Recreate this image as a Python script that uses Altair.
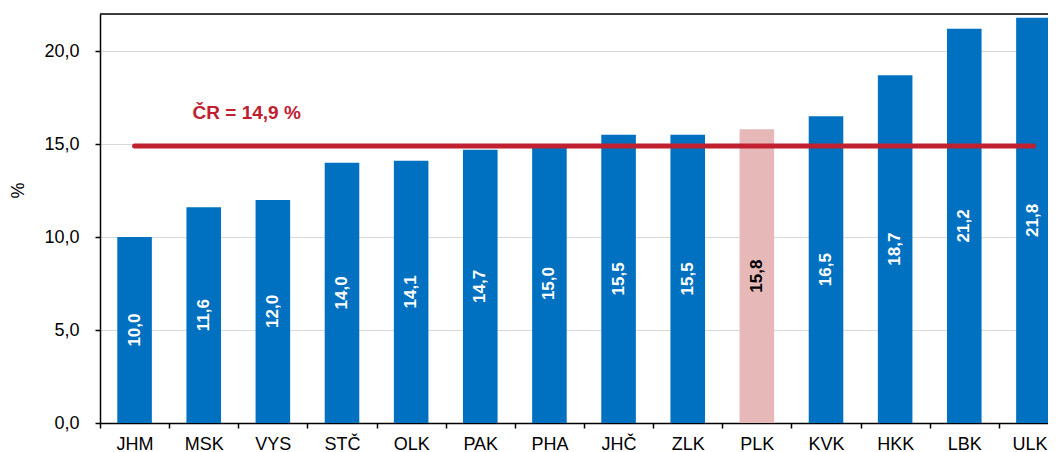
import altair as alt
import pandas as pd

regions = ["JHM", "MSK", "VYS", "STČ", "OLK", "PAK", "PHA", "JHČ", "ZLK", "PLK", "KVK", "HKK", "LBK", "ULK"]
values = [10.0, 11.6, 12.0, 14.0, 14.1, 14.7, 15.0, 15.5, 15.5, 15.8, 16.5, 18.7, 21.2, 21.8]
highlight = "PLK"
cr_value = 14.9
cr_label = "ČR = 14,9 %"
cr_label_y = 16.7
y_ticks = [0, 5, 10, 15, 20]

FONT = "Liberation Sans"
BLUE = "#0070C0"
PINK = "#E6B9B8"
RED = "#C0202F"

df = pd.DataFrame({"region": regions, "value": values})
df["label"] = [f"{v:.1f}".replace(".", ",") for v in values]
df["mid"] = df["value"] / 2

cr_df = pd.DataFrame({"x0": [regions[0]], "x1": [regions[-1]], "y": [cr_value],
                      "text": [cr_label], "ty": [cr_label_y]})

xscale = alt.Scale(domain=regions, paddingInner=0, paddingOuter=0)
yscale = alt.Scale(domain=[0, 22], nice=False)

xaxis = alt.Axis(title=None, tickBand="extent", domainColor="black", domainWidth=1.5,
                 tickColor="black", tickSize=5, tickWidth=1.5, labelFont=FONT, labelFontSize=18,
                 labelColor="black", labelPadding=7, grid=False, labelAngle=0,
                 labelOffset=alt.ExprRef(expr=f"datum.value === '{regions[-1]}' ? -4 : 0"))
yaxis = alt.Axis(title="%", values=y_ticks, domainColor="black", domainWidth=1.5,
                 tickColor="black", tickSize=5, tickWidth=1.5, labelFont=FONT, labelFontSize=18,
                 labelColor="black", labelPadding=16,
                 labelExpr="replace(format(datum.value, '.1f'), '.', ',')",
                 grid=True, gridColor="#D9D9D9", gridWidth=1.2,
                 titleFont=FONT, titleFontSize=18, titleFontWeight="normal", titleColor="black",
                 titleAngle=270, titleAlign="center", titleBaseline="middle",
                 titleX=-82, titleY=176)

base = alt.Chart(df)

bars = base.mark_bar(width=alt.RelativeBandSize(0.5)).encode(
    x=alt.X("region:N", scale=xscale, axis=xaxis),
    y=alt.Y("value:Q", scale=yscale, axis=yaxis),
    color=alt.condition(alt.datum.region == highlight, alt.value(PINK), alt.value(BLUE)),
)

labels = base.mark_text(angle=270, font=FONT, fontSize=17, fontWeight="bold",
                        align="center", baseline="middle").encode(
    x=alt.X("region:N", scale=xscale, axis=xaxis),
    y=alt.Y("mid:Q", scale=yscale, axis=yaxis),
    text="label:N",
    color=alt.condition(alt.datum.region == highlight, alt.value("black"), alt.value("white")),
)

cr_base = alt.Chart(cr_df)
cr_line = cr_base.mark_rule(color=RED, strokeWidth=5, strokeCap="round").encode(
    x=alt.X("x0:N", scale=xscale, axis=xaxis),
    x2="x1:N",
    y=alt.Y("y:Q", scale=yscale, axis=yaxis),
)
cr_text = cr_base.mark_text(color=RED, font=FONT, fontSize=19, fontWeight="bold",
                            align="left", baseline="middle", dx=58).encode(
    x=alt.X("x0:N", scale=xscale, axis=xaxis),
    y=alt.Y("ty:Q", scale=yscale, axis=yaxis),
    text="text:N",
)

top_border = cr_base.mark_rule(color="black", strokeWidth=1.5).encode(
    x=alt.value(0), x2=alt.value(968), y=alt.value(0)
)

chart = alt.layer(bars, labels, cr_line, cr_text, top_border).properties(
    width=968, height=409,
    autosize=alt.AutoSizeParams(type="none"),
    padding={"left": 92, "top": 6, "right": -20, "bottom": 29},
).configure_view(stroke=None).configure(background="white")

chart.save("out.html", embed_options={"renderer": "svg", "actions": False})
